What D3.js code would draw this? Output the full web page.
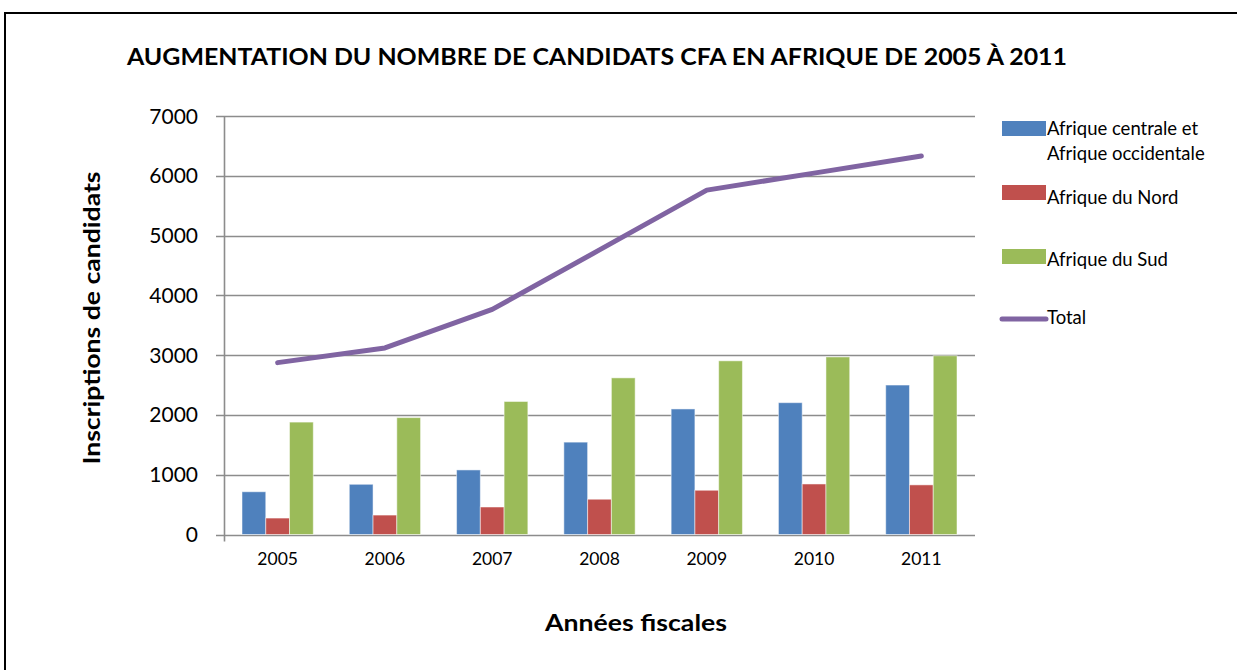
<!DOCTYPE html>
<html>
<head>
<meta charset="utf-8">
<script src="https://cdn.jsdelivr.net/npm/d3@7"></script>
<style>
  body { margin: 0; background: #fff; }
  svg { display: block; font-family: Lato, "Open Sans", sans-serif; }
</style>
</head>
<body>
<div id="chart"></div>
<script>
// data
const years = ["2005", "2006", "2007", "2008", "2009", "2010", "2011"];
const centraleOccidentale = [715, 840, 1080, 1545, 2100, 2205, 2500];
const nord = [275, 325, 460, 590, 740, 845, 830];
const sud = [1880, 1955, 2225, 2620, 2905, 2970, 2990];
const total = [2875, 3120, 3765, 4760, 5760, 6045, 6330];
const yTicks = [0, 1000, 2000, 3000, 4000, 5000, 6000, 7000];

const seriesNames = ["Afrique centrale et Afrique occidentale", "Afrique du Nord", "Afrique du Sud"];
const colors = ["#4F81BD", "#C0504D", "#9BBB59"];
const lineColor = "#8064A2";

const W = 1237, H = 670;
const plot = { left: 224, right: 975, top: 116, bottom: 534.5 };

const svg = d3.select("#chart").append("svg")
    .attr("width", W)
    .attr("height", H);

// outer frame (runs off the right and bottom of the picture)
svg.append("rect")
    .attr("x", 5).attr("y", 13)
    .attr("width", 1300).attr("height", 700)
    .attr("fill", "none")
    .attr("stroke", "#000")
    .attr("stroke-width", 2);

const x = d3.scaleBand().domain(years).range([plot.left, plot.right]).paddingInner(0).paddingOuter(0);
const y = d3.scaleLinear().domain([0, 7000]).range([plot.bottom, plot.top]);
const inner = d3.scaleBand().domain(d3.range(3)).range([18, x.bandwidth() - 18]);

// gridlines + y ticks
svg.append("g")
    .selectAll("line")
    .data(yTicks)
    .join("line")
    .attr("x1", plot.left - 8)
    .attr("x2", plot.right)
    .attr("y1", d => Math.round(y(d)) + 0.5)
    .attr("y2", d => Math.round(y(d)) + 0.5)
    .attr("stroke", "#8c8c8c")
    .attr("stroke-width", 1.6);

svg.append("g")
    .selectAll("text")
    .data(yTicks)
    .join("text")
    .attr("x", 198)
    .attr("y", d => y(d))
    .attr("dy", "0.36em")
    .attr("text-anchor", "end")
    .style("font-size", "21px")
    .attr("fill", "#000")
    .text(d => d);

// bars
const allSeries = [centraleOccidentale, nord, sud];
allSeries.forEach((vals, si) => {
    svg.append("g")
        .selectAll("rect")
        .data(vals)
        .join("rect")
        .attr("x", (d, i) => x(years[i]) + inner(si))
        .attr("width", inner.bandwidth())
        .attr("y", d => y(d))
        .attr("height", d => y(0) - y(d))
        .attr("fill", colors[si])
        .attr("stroke", "#ffffff")
        .attr("stroke-opacity", 0.5)
        .attr("stroke-width", 1);
});

// y axis line (dips below zero like the category tick)
svg.append("line")
    .attr("x1", plot.left + 0.5).attr("x2", plot.left + 0.5)
    .attr("y1", plot.top).attr("y2", plot.bottom + 7)
    .attr("stroke", "#8c8c8c")
    .attr("stroke-width", 1.6);

// x labels
svg.append("g")
    .selectAll("text")
    .data(years)
    .join("text")
    .attr("x", d => x(d) + x.bandwidth() / 2)
    .attr("y", 559)
    .attr("dy", "0.36em")
    .attr("text-anchor", "middle")
    .style("font-size", "17.5px")
    .text(d => d);

// total line
const line = d3.line()
    .x((d, i) => x(years[i]) + x.bandwidth() / 2)
    .y(d => y(d));

svg.append("path")
    .datum(total)
    .attr("d", line)
    .attr("fill", "none")
    .attr("stroke", lineColor)
    .attr("stroke-width", 5)
    .attr("stroke-linecap", "round")
    .attr("stroke-linejoin", "round");

// titles
svg.append("text")
    .attr("x", 597).attr("y", 57)
    .attr("dy", "0.36em")
    .attr("text-anchor", "middle")
    .attr("textLength", 940)
    .attr("lengthAdjust", "spacingAndGlyphs")
    .style("font-size", "22px")
    .style("font-weight", "bold")
    .text("AUGMENTATION DU NOMBRE DE CANDIDATS CFA EN AFRIQUE DE 2005 À 2011");

svg.append("text")
    .attr("x", 636).attr("y", 623)
    .attr("dy", "0.36em")
    .attr("text-anchor", "middle")
    .attr("textLength", 182)
    .attr("lengthAdjust", "spacingAndGlyphs")
    .style("font-size", "22px")
    .style("font-weight", "bold")
    .text("Années fiscales");

svg.append("text")
    .attr("transform", "translate(92,318) rotate(-90)")
    .attr("dy", "0.36em")
    .attr("text-anchor", "middle")
    .attr("textLength", 293)
    .attr("lengthAdjust", "spacingAndGlyphs")
    .style("font-size", "22px")
    .style("font-weight", "bold")
    .text("Inscriptions de candidats");

// legend
const legend = svg.append("g");
const swatchY = [121, 185, 249];
seriesNames.forEach((name, i) => {
    legend.append("rect")
        .attr("x", 1002).attr("y", swatchY[i])
        .attr("width", 44).attr("height", 15)
        .attr("fill", colors[i]);
});
const legendText = (t, yy) => legend.append("text")
    .attr("x", 1047).attr("y", yy)
    .attr("dy", "0.36em")
    .style("font-size", "18.5px")
    .text(t);
legendText("Afrique centrale et", 128);
legendText("Afrique occidentale", 153);
legendText("Afrique du Nord", 197);
legendText("Afrique du Sud", 259);
legend.append("line")
    .attr("x1", 1002).attr("x2", 1046)
    .attr("y1", 319).attr("y2", 319)
    .attr("stroke", lineColor)
    .attr("stroke-width", 5)
    .attr("stroke-linecap", "round");
legendText("Total", 317);
</script>
</body>
</html>
